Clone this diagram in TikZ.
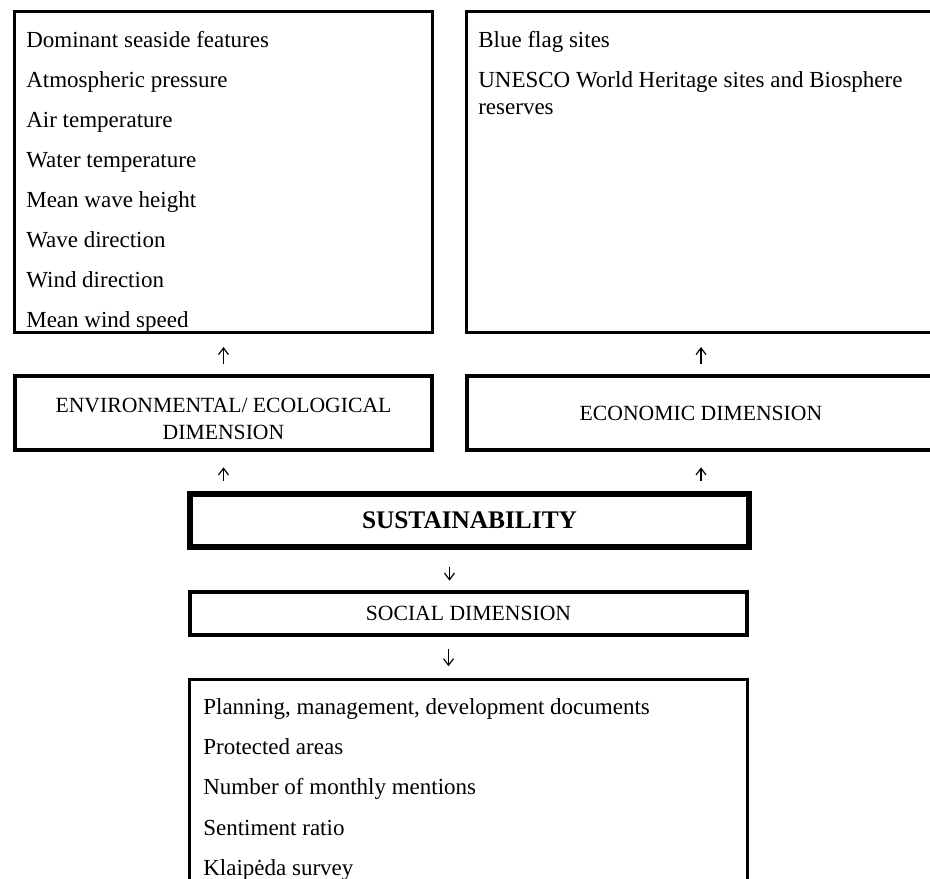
\documentclass[tikz,border=0pt]{standalone}
\usepackage{fontspec}
\setmainfont{Liberation Serif}
\usetikzlibrary{positioning, arrows.meta, calc}

\newcommand{\itemfont}{\fontsize{13.8}{16.2}\selectfont}
\newcommand{\dimfont}{\fontsize{13}{16.2}\selectfont}
\newcommand{\susfont}{\fontsize{15.2}{16}\selectfont\bfseries}

\begin{document}
\begin{tikzpicture}[
    x=0.6pt, y=-0.6pt,
    >={Straight Barb[length=4pt, width=6pt]},
    % Styles
    listbox/.style={
        draw,
        line width=1.8pt,
        inner sep=0pt,
        minimum height=192.6pt
    },
    dimbox/.style={ % dimension boxes
        draw,
        line width=2.8pt,
        inner sep=0pt,
        align=center,
        minimum height=44.4pt,
        font=\dimfont
    },
    susbox/.style={
        draw,
        line width=3.6pt,
        inner sep=0pt,
        font=\susfont
    },
    item/.style={
        anchor=base west,
        inner sep=0pt,
        font=\itemfont
    },
    arrow/.style={
        ->,
        line width=0.7pt
    }
]

    \clip (0,0) rectangle (930,879);
    \fill[white] (0,0) rectangle (930,879);

    % Indicator boxes
    \node[listbox, minimum width=250.8pt] (envlist) at (223.5, 172) {};
    \node[listbox, minimum width=281.4pt] (ecolist) at (701, 172) {};

    % Dimensions
    \node[dimbox, minimum width=250.2pt, text height=32pt] (env) at (223.5, 413) {ENVIRONMENTAL/ ECOLOGICAL\\DIMENSION};
    \node[dimbox, minimum width=280.8pt] (eco) at (701, 413) {ECONOMIC DIMENSION};
    \node[susbox, minimum width=335.4pt, minimum height=31.8pt] (sus) at (469.5, 520.5) {SUSTAINABILITY};
    \node[dimbox, minimum width=334.2pt, minimum height=25.8pt] (soc) at (468.5, 613.5) {SOCIAL DIMENSION};
    \node[listbox, minimum width=334.8pt, minimum height=132.3pt] (soclist) at (468.5, 790) {};

    % Indicators
    \foreach \txt [count=\i] in {Dominant seaside features, Atmospheric pressure,
        Air temperature, Water temperature, Mean wave height, Wave direction,
        Wind direction, Mean wind speed} {
        \node[item] (envitem\i) at (26, 8+40*\i) {\txt};
    }
    \node[item] (blueflag) at (478, 48) {Blue flag sites};
    \node[item, align=left] (unesco) at (478, 115) {UNESCO World Heritage sites and Biosphere\\reserves};
    \foreach \txt [count=\i] in {{Planning, management, development documents},
        Protected areas, Number of monthly mentions, Sentiment ratio,
        Klaipėda survey} {
        \node[item] (socitem\i) at (203, 674+40.3*\i) {\txt};
    }

    % Connections
    \draw[arrow, shorten <=6pt, shorten >=7.8pt] (env.north) -- (envlist.south);
    \draw[arrow, shorten <=6pt, shorten >=7.8pt] (eco.north) -- (ecolist.south);
    \draw[arrow, shorten <=6pt, shorten >=9pt] (env.south |- sus.north) -- (env.south);
    \draw[arrow, shorten <=6pt, shorten >=9pt] (eco.south |- sus.north) -- (eco.south);
    \draw[arrow, shorten <=10pt, shorten >=5.4pt] ([xshift=-12pt]sus.south) -- ([xshift=-12pt]sus.south |- soc.north);
    \draw[arrow, shorten <=7.2pt, shorten >=7.2pt] ([xshift=-12pt]soc.south) -- ([xshift=-12pt]soc.south |- soclist.north);
\end{tikzpicture}
\end{document}
